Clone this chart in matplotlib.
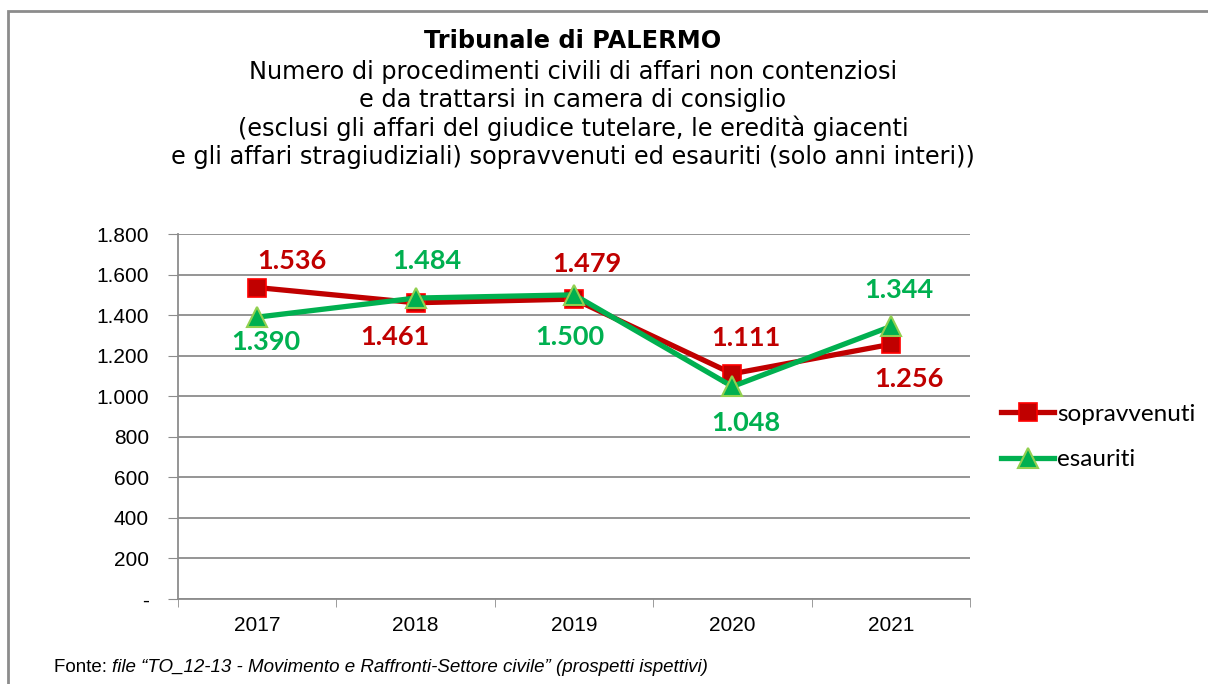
import matplotlib
matplotlib.use("Agg")
import matplotlib.pyplot as plt
from matplotlib.patches import Rectangle
from matplotlib.ticker import FuncFormatter, MultipleLocator

years = ["2017", "2018", "2019", "2020", "2021"]
sopravvenuti = [1536, 1461, 1479, 1111, 1256]
esauriti = [1390, 1484, 1500, 1048, 1344]

# label offsets in points (dx, dy) as placed in the original
sop_offsets = [(25, 19), (-15, -25), (9, 25), (10, 26), (13, -25)]
esa_offsets = [(6, -18), (8, 27), (-3, -30), (10, -26), (6, 26)]

RED, RED_EDGE = "#C00000", "#FF0000"
GREEN, GREEN_EDGE = "#00B050", "#92D050"


def it_fmt(v, pos=None):
    if v == 0:
        return "-"
    return f"{int(v):,}".replace(",", ".")


fig = plt.figure(figsize=(12.08, 6.84), dpi=100)
fig.patches.append(Rectangle((8 / 1208, -0.1), 1.2, 1 - 11 / 684 + 0.1,
                             transform=fig.transFigure, fill=False,
                             edgecolor="#8c8c8c", linewidth=2))

ax = fig.add_axes([178 / 1208, 1 - 599 / 684, 792 / 1208, 365 / 684])
x = range(len(years))

ax.plot(x, sopravvenuti, color=RED, linewidth=3.8, marker="s", markersize=13,
        markerfacecolor=RED, markeredgecolor=RED_EDGE, markeredgewidth=1.2,
        label="sopravvenuti", zorder=3)
ax.plot(x, esauriti, color=GREEN, linewidth=3.8, marker="^", markersize=14,
        markerfacecolor=GREEN, markeredgecolor=GREEN_EDGE, markeredgewidth=1.5,
        label="esauriti", zorder=4)

for i, v in enumerate(sopravvenuti):
    ax.annotate(it_fmt(v), (i, v), xytext=sop_offsets[i], textcoords="offset points",
                ha="center", va="center", color=RED, fontsize=19.5,
                fontweight="bold", family="Lato", zorder=5)
for i, v in enumerate(esauriti):
    ax.annotate(it_fmt(v), (i, v), xytext=esa_offsets[i], textcoords="offset points",
                ha="center", va="center", color=GREEN, fontsize=19.5,
                fontweight="bold", family="Lato", zorder=5)

ax.set_xlim(-0.5, len(years) - 0.5)
ax.set_ylim(0, 1800)
ax.yaxis.set_major_locator(MultipleLocator(200))
ax.yaxis.set_major_formatter(FuncFormatter(it_fmt))
ax.set_xticks(list(x))
ax.set_xticklabels(years)
ax.set_xticks([i - 0.5 for i in range(len(years) + 1)], minor=True)
ax.tick_params(axis="x", which="major", length=0, pad=12, labelsize=15)
ax.tick_params(axis="x", which="minor", length=6, color="#8c8c8c", direction="out")
ax.tick_params(axis="y", length=7, color="#8c8c8c", direction="out", pad=14, labelsize=15)
for lab in ax.get_xticklabels() + ax.get_yticklabels():
    lab.set_family("Liberation Sans")

ax.grid(axis="y", color="#8c8c8c", linewidth=1.3)
ax.set_axisbelow(True)
for s in ["top", "right"]:
    ax.spines[s].set_visible(False)
for s in ["left", "bottom"]:
    ax.spines[s].set_color("#8c8c8c")
    ax.spines[s].set_linewidth(1.3)

leg = fig.legend(loc="center left", bbox_to_anchor=(1001 / 1208, 1 - 437 / 684),
                 frameon=False, prop={"family": "Lato", "size": 17.5},
                 handlelength=2.2, handletextpad=0.1, labelspacing=1.0,
                 borderpad=0, borderaxespad=0)

fig.text(573 / 1208, 1 - 41 / 684, "Tribunale di PALERMO", ha="center", va="center",
         fontsize=17.3, fontweight="bold", family="DejaVu Sans")
subtitle = ["Numero di procedimenti civili di affari non contenziosi",
            "e da trattarsi in camera di consiglio",
            "(esclusi gli affari del giudice tutelare, le eredità giacenti",
            "e gli affari stragiudiziali) sopravvenuti ed esauriti (solo anni interi))"]
for k, line in enumerate(subtitle):
    fig.text(573 / 1208, 1 - (72 + 28.3 * k) / 684, line, ha="center", va="center",
             fontsize=17.3, family="DejaVu Sans")

fonte = fig.text(54 / 1208, 1 - 667 / 684, "Fonte: ", ha="left", va="center",
                 fontsize=13.5, family="Liberation Sans")
fig.canvas.draw()
bb = fonte.get_window_extent()
fig.text(bb.x1 / 1208, 1 - 667 / 684,
         "file \u201cTO_12-13 - Movimento e Raffronti-Settore civile\u201d (prospetti ispettivi)",
         ha="left", va="center", fontsize=13.5, style="italic", family="Liberation Sans")

fig.savefig("out.png", dpi=100)
